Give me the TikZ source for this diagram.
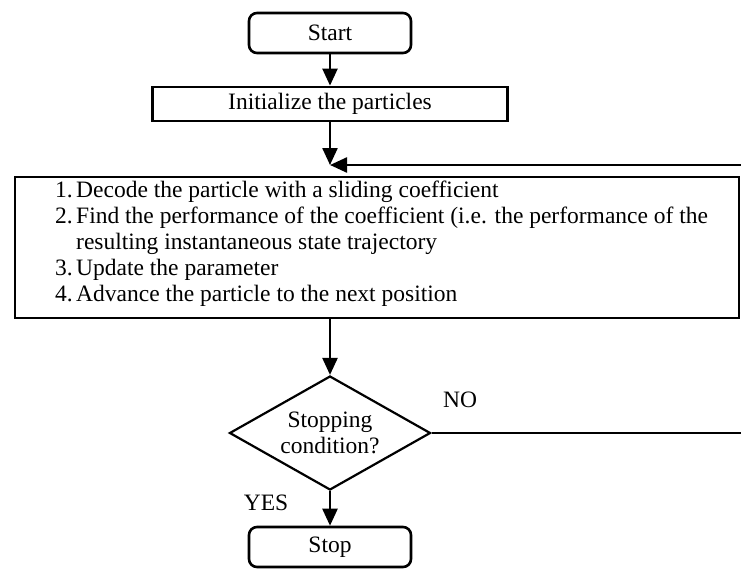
\documentclass[tikz,border=0pt]{standalone}
\usepackage{fontspec}
\setmainfont{Liberation Serif}
\usetikzlibrary{arrows.meta,shapes.geometric}
\tikzset{
  rbox/.style={draw, line width=2.6pt, rounded corners=8pt, inner sep=0pt, minimum width=162pt, minimum height=40pt},
  sbox/.style={draw, line width=2.8pt, inner sep=0pt},
  decision/.style={draw, diamond, line width=2.2pt, inner sep=0pt, minimum width=201pt, minimum height=114pt, aspect=1.76, align=center},
  arr/.style={line width=2.4pt, -{Triangle[length=17pt,width=15pt]}},
  plain/.style={line width=2.4pt},
  lbl/.style={inner sep=0pt}
}
\begin{document}
\begin{tikzpicture}[x=1pt,y=-1pt]
\fontsize{23.5}{26}\selectfont
\useasboundingbox (0,0) rectangle (741,568);
\node[rbox] (start) at (330,33) {Start};
\node[sbox, minimum width=355pt, minimum height=34pt] (init) at (330,104) {Initialize the particles};
\coordinate (m) at (330,165);
\coordinate (fbR) at (741,165);
\node[sbox, minimum width=724pt, minimum height=141pt] (big) at (377,247.5) {};
\node[lbl, anchor=north west, align=left] (steps) at (55,181) {%
\makebox[21pt][l]{1.}Decode the particle with a sliding coefficient\\
\makebox[21pt][l]{2.}Find the performance of the coefficient (i.e. the performance of the\\
\hspace*{21pt}resulting instantaneous state trajectory\\
\makebox[21pt][l]{3.}Update the parameter\\
\makebox[21pt][l]{4.}Advance the particle to the next position};
\node[decision] (dec) at (330,433) {Stopping\\condition?};
\coordinate (noR) at (741,433);
\node[rbox] (stop) at (330,547) {Stop};
\node[lbl] (no) at (460,400) {NO};
\node[lbl] (yes) at (266,503) {YES};
\draw[arr] (start) -- (init);
\draw[arr] (init) -- (m);
\draw[arr] (fbR) -- (m);
\draw[arr] (big.south -| dec.north) -- (dec.north);
\draw[plain] (dec.east) -- (noR);
\draw[arr] (dec) -- (stop);
\end{tikzpicture}
\end{document}
